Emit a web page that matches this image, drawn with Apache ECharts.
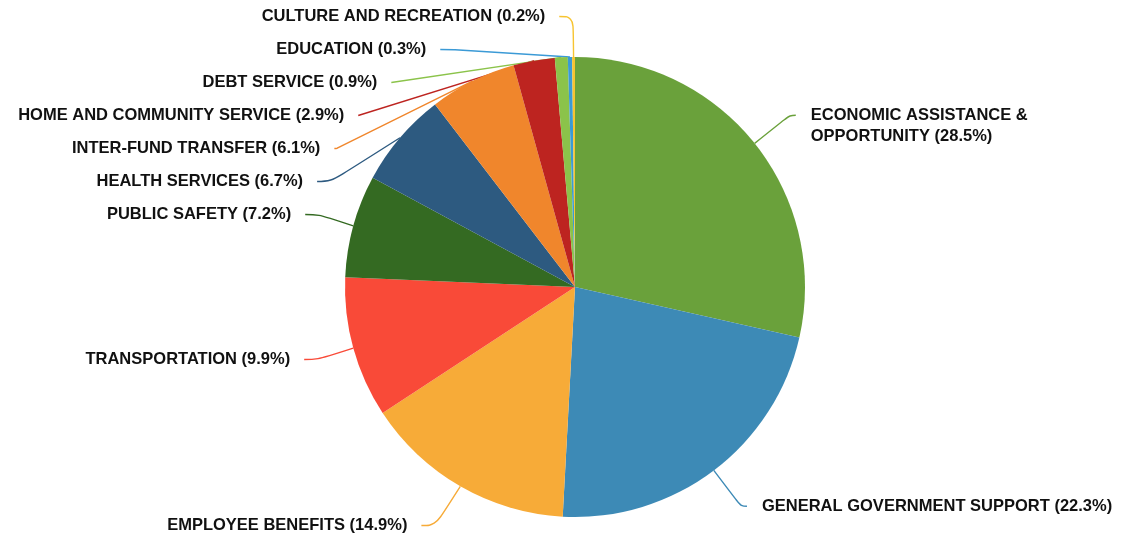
<!DOCTYPE html>
<html>
<head>
<meta charset="utf-8">
<style>
  html, body { margin: 0; padding: 0; background: #ffffff; }
  #chart { width: 1122px; height: 542px; }
</style>
<script src="https://cdn.jsdelivr.net/npm/echarts@6/dist/echarts.min.js"></script>
</head>
<body>
<div id="chart"></div>
<script>
// Budget share by function, in percent of total spending
const categories = [
  'ECONOMIC ASSISTANCE &\nOPPORTUNITY',
  'GENERAL GOVERNMENT SUPPORT',
  'EMPLOYEE BENEFITS',
  'TRANSPORTATION',
  'PUBLIC SAFETY',
  'HEALTH SERVICES',
  'INTER-FUND TRANSFER',
  'HOME AND COMMUNITY SERVICE',
  'DEBT SERVICE',
  'EDUCATION',
  'CULTURE AND RECREATION'
];
const shares = [28.5, 22.3, 14.9, 9.9, 7.2, 6.7, 6.1, 2.9, 0.9, 0.3, 0.2];
const colors = [
  '#6aa13b', '#3d8ab6', '#f7ab38', '#f94a38', '#346a22', '#2d5a80',
  '#f0862c', '#bd2420', '#8bc34a', '#3b9ad6', '#f7c431'
];

const total = shares.reduce((a, b) => a + b, 0);
let before = 0;

const data = categories.map((name, i) => {
  const mid = (before + shares[i] / 2) / total;
  before += shares[i];
  const onRight = mid < 0.5;
  return {
    name: name,
    value: shares[i],
    itemStyle: { color: colors[i] },
    // right-hand labels sit a little closer to the pie
    label: onRight ? { distanceToLabelLine: 15 } : {},
    labelLine: Object.assign(
      { lineStyle: { color: colors[i] } },
      onRight ? { length: 45, length2: 6 } : {}
    )
  };
});

const chart = echarts.init(document.getElementById('chart'), null, { renderer: 'canvas' });

chart.setOption({
  animation: false,
  series: [{
    type: 'pie',
    center: [575, 287],
    radius: 230,
    startAngle: 90,
    clockwise: true,
    avoidLabelOverlap: true,
    bleedMargin: 0,
    data: data,
    label: {
      show: true,
      // multi-line names start their first line level with the leader line
      formatter: p => (p.name.indexOf('\n') >= 0 ? '\n' : '') +
        p.name + ' (' + p.value.toFixed(1) + '%)',
      fontFamily: 'Liberation Sans, Arial, Helvetica, sans-serif',
      fontWeight: 'bold',
      fontSize: 16.5,
      lineHeight: 21,
      padding: [5, 0],
      color: '#111111',
      overflow: 'none',
      distanceToLabelLine: 14
    },
    labelLine: {
      show: true,
      length: 50,
      length2: 14,
      smooth: 0.4,
      lineStyle: { width: 1.4 }
    }
  }]
});
</script>
</body>
</html>
